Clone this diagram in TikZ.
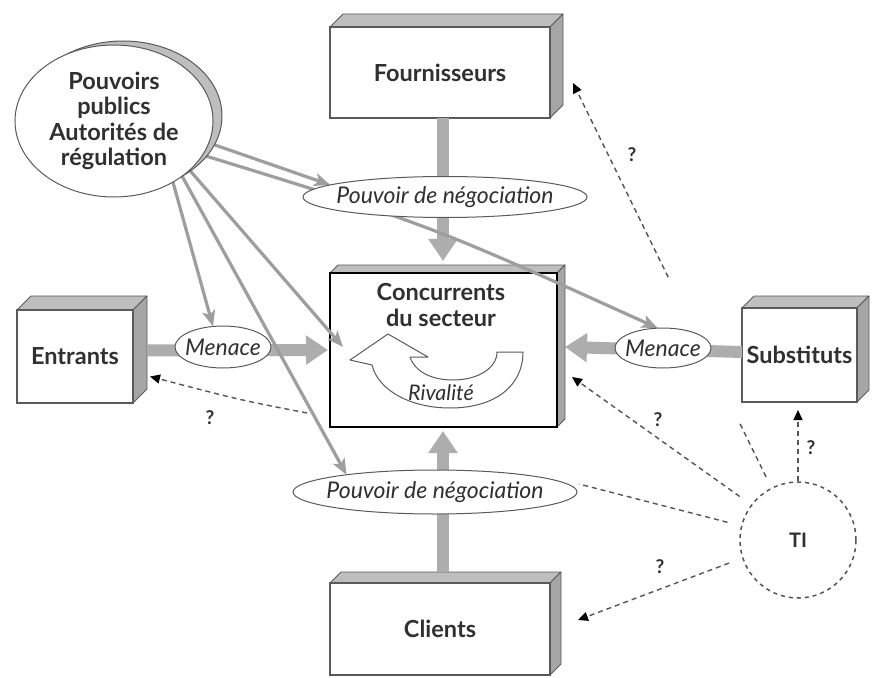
\documentclass[tikz,border=0pt]{standalone}
\usepackage{fontspec}
\setmainfont{Lato}
\usetikzlibrary{shapes.geometric,arrows.meta,calc}
\definecolor{topc}{HTML}{BEBEBE}
\definecolor{sidec}{HTML}{A6A6A6}
\definecolor{edgec}{HTML}{5A5A5A}
\definecolor{thickc}{HTML}{ADADAD}
\definecolor{thinc}{HTML}{9E9E9E}
\definecolor{txtc}{HTML}{303030}
\definecolor{dashc}{HTML}{555555}
\pgfdeclarelayer{boxes}
\pgfdeclarelayer{arrows}
\pgfsetlayers{boxes,arrows,main}
\tikzset{
 front/.style={rectangle, draw=edgec, line width=1.3bp, fill=white, outer sep=0pt, inner sep=0pt, text=txtc, font=\fontsize{23.5bp}{26bp}\selectfont\bfseries},
 topface/.style={fill=topc, draw=edgec, line width=0.8bp, line join=round},
 sideface/.style={fill=sidec, draw=edgec, line width=0.8bp, line join=round},
 oval/.style={ellipse, draw=edgec, line width=1bp, fill=white, inner sep=0pt, outer sep=0pt},
 ovtxt/.style={text=txtc, font=\fontsize{23bp}{26bp}\selectfont\itshape, inner sep=0pt},
 bigarrow/.style={draw=thickc, line width=12bp, -{Triangle[length=22bp,width=28bp]}},
 thinarrow/.style={draw=thinc, line width=3.2bp, -{Stealth[length=16bp,width=13bp,inset=4bp]}},
 dasharrow/.style={draw=dashc, line width=1.4bp, dash pattern=on 5bp off 4bp, -{Triangle[length=10bp,width=9bp,color=black]}},
 dashline/.style={draw=dashc, line width=1.4bp, dash pattern=on 5bp off 4bp},
 qmark/.style={text=txtc, font=\fontsize{19bp}{22bp}\selectfont\bfseries, inner sep=0pt},
 bigtxt/.style={text=txtc, font=\fontsize{23.5bp}{25.5bp}\selectfont\bfseries, align=center, inner sep=0pt},
}
% #1 extra style, #2 name, #3 cx, #4 cy, #5 w, #6 h, #7 depth, #8 label
\newcommand{\mycube}[8][]{%
  \node[front,#1,minimum width=#5bp,minimum height=#6bp] (#2) at (#3,#4) {#8};
  \filldraw[topface] (#2.north west) -- ([shift={(#7,-#7)}]#2.north west) -- ([shift={(#7,-#7)}]#2.north east) -- (#2.north east) -- cycle;
  \filldraw[sideface] (#2.north east) -- ([shift={(#7,-#7)}]#2.north east) -- ([shift={(#7,-#7)}]#2.south east) -- (#2.south east) -- cycle;
  \draw[front,#1,fill=none] (#2.north west) rectangle (#2.south east);
}
\begin{document}
\begin{tikzpicture}[x=1bp,y=-1bp]
\useasboundingbox (0,0) rectangle (878,678);
\begin{pgfonlayer}{boxes}
\fill[white] (0,0) rectangle (878,678);
\mycube{fo}{440}{72.5}{220}{91}{13}{Fournisseurs}
\mycube[draw=black,line width=2.4bp]{cc}{443.5}{350}{227}{154}{8}{}
\mycube{en}{75}{356.5}{116}{93}{14}{Entrants}
\mycube{su}{799.5}{355}{115}{94}{12}{Substituts}
\mycube{cl}{440}{629}{220}{92}{11}{Clients}
\end{pgfonlayer}

% ovals
\node[oval, minimum width=284bp, minimum height=41bp, label={[ovtxt]center:Pouvoir de négociation}] (n1) at (445,197) {};
\node[oval, minimum width=284bp, minimum height=44bp, label={[ovtxt]center:Pouvoir de négociation}] (n2) at (435,492) {};
\node[oval, minimum width=96bp, minimum height=42bp, label={[ovtxt]center:Menace}] (m1) at (223,347) {};
\node[oval, minimum width=96bp, minimum height=40bp, label={[ovtxt]center:Menace}] (m2) at (663,348) {};
\node[oval, fill=topc, minimum width=198bp, minimum height=150bp] (pps) at (123,116) {};
\node[oval, minimum width=198bp, minimum height=152bp, label={[bigtxt]center:{Pouvoirs\\publics\\Autorités de\\régulation}}] (pp) at (114,121) {};
\node[circle, draw=dashc, line width=1.5bp, dash pattern=on 4bp off 4bp, minimum size=116bp, inner sep=0pt, text=txtc, font=\fontsize{20bp}{22bp}\selectfont\bfseries] (ti) at (798,540) {TI};

% rivalry arrow inside the central box
\filldraw[fill=white, draw=edgec, line width=1bp, line join=round]
  (523,352) .. controls (523,386) and (495,408) .. (450,408)
  .. controls (410,408) and (378,390) .. (372,365)
  -- (350,360) -- (388,334) -- (428,357) -- (410,357)
  .. controls (415,372) and (432,380) .. (453,380)
  .. controls (478,380) and (497,368) .. (497,352) -- cycle;
\node[ovtxt, font=\fontsize{21.5bp}{24bp}\selectfont\itshape] (riv) at (441,393) {Rivalité};
\node[bigtxt] (cct) at (441,305) {Concurrents\\du secteur};

% question marks
\node[qmark] (q1) at (632,155) {?};
\node[qmark] (q2) at (210,418) {?};
\node[qmark] (q3) at (658,420) {?};
\node[qmark] (q4) at (811,448) {?};
\node[qmark] (q5) at (660,567) {?};

\begin{pgfonlayer}{arrows}
% thick grey arrows
\draw[bigarrow] ($(fo.south)+(3,0)$) -- ($(cc.north)+(-0.5,-12)$);
\draw[bigarrow] ($(cl.north)+(3,-11)$) -- ($(cc.south)+(-0.5,4)$);
\draw[bigarrow] ($(en.east)+(14,-6)$) -- ($(cc.west)+(-2,0)$);
\draw[bigarrow] ($(su.west)+(0,-3)$) -- ($(cc.east)+(8,-3)$);
% influence of public authorities
\draw[thinarrow] (pp.-13) -- (n1.174);
\draw[thinarrow] (pp.-21) .. controls (430,225) .. (m2.105);
\draw[thinarrow] (pp.-46) -- (m1.116);
\draw[thinarrow] (pp.-39) -- (n2.169);
\draw[thinarrow] (pp.-33) -- ($(cc.west)+(13,-3)$);
% dashed IT arrows
\coordinate (fotip) at ($(fo.east)+(23,10.5)$);
\coordinate (g2) at ($(ti.117)!0.16!(fotip)$);
\coordinate (g1) at ($(ti.117)!0.52!(fotip)$);
\draw[dashline, shorten <=12bp] (ti.117) -- (g2);
\draw[dasharrow] (g1) -- (fotip);
\draw[dasharrow, shorten <=14bp] (ti.143) -- ($(cc.east)+(15,27)$);
\draw[dasharrow] (ti.north) -- ($(su.south)+(-1.5,8)$);
\draw[dashline, shorten <=14bp] (ti.166) -- ($(n2.east)+(2,-8)$);
\draw[dasharrow, shorten <=14bp] (ti.198) -- ($(cl.east)+(28,-9)$);
\coordinate (etail) at (307,413);
\draw[dasharrow] (etail) .. controls (240,400) .. ($(en.east)+(17,20)$);
\end{pgfonlayer}
\end{tikzpicture}
\end{document}
